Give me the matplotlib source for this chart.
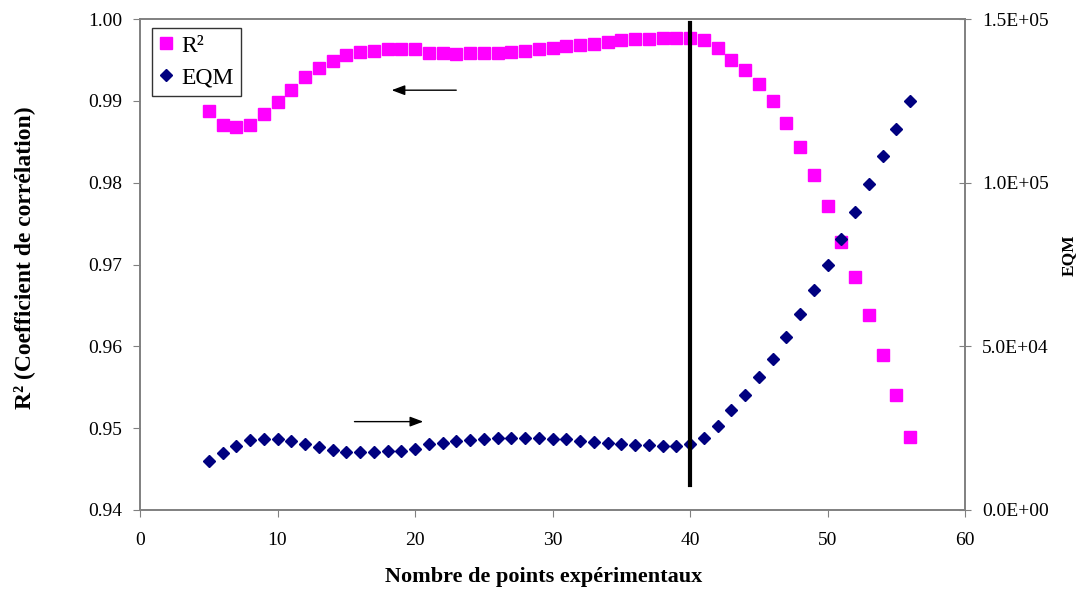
import matplotlib
matplotlib.use("Agg")
import matplotlib.pyplot as plt

plt.rcParams['font.family'] = ['Liberation Serif', 'DejaVu Serif']

n_points = list(range(5, 57))
r2 = [0.9888, 0.9871, 0.9868, 0.9871, 0.9884, 0.9899, 0.9913, 0.9929, 0.9940, 0.9949,
      0.9956, 0.9960, 0.9961, 0.9963, 0.9963, 0.9963, 0.9958, 0.9958, 0.9957, 0.9958,
      0.9958, 0.9958, 0.9960, 0.9961, 0.9963, 0.9964, 0.9967, 0.9968, 0.9970, 0.9972,
      0.9974, 0.9975, 0.9976, 0.9977, 0.9977, 0.9977, 0.9974, 0.9965, 0.9950, 0.9938,
      0.9920, 0.9900, 0.9873, 0.9843, 0.9809, 0.9771, 0.9728, 0.9685, 0.9638, 0.9589,
      0.9541, 0.9489]
eqm = [15000, 17500, 19600, 21300, 21700, 21600, 21100, 20100, 19300, 18300,
       17600, 17600, 17700, 18100, 18100, 18500, 20100, 20400, 21100, 21400,
       21600, 22000, 22000, 22000, 22000, 21800, 21600, 21200, 20900, 20500,
       20200, 19900, 19900, 19600, 19600, 20200, 21900, 25600, 30700, 35200,
       40600, 46000, 52800, 60000, 67200, 75000, 82700, 90900, 99600, 108000,
       116300, 125100]

x_ticks = [0, 10, 20, 30, 40, 50, 60]
r2_ticks = [0.94, 0.95, 0.96, 0.97, 0.98, 0.99, 1.00]
eqm_ticks = [0, 50000, 100000, 150000]
eqm_tick_labels = ['0.0E+00', '5.0E+04', '1.0E+05', '1.5E+05']
optimum_x = 40

W, H = 1084, 591
fig = plt.figure(figsize=(W / 100, H / 100), dpi=100)
ax1 = fig.add_axes([140 / W, 1 - 510 / H, (965 - 140) / W, (510 - 19) / H])
ax2 = ax1.twinx()

spine_col = '#808080'
ax1.set_xlim(0, 60)
ax1.set_ylim(0.94, 1.00)
ax2.set_ylim(0, 150000)

l1, = ax1.plot(n_points, r2, linestyle='none', marker='s', markersize=8,
               color='#FF00FF', markeredgecolor='#FF00FF', label='R²')
l2, = ax2.plot(n_points, eqm, linestyle='none', marker='D', markersize=6.5,
               color='#000080', markeredgecolor='#000080', label='EQM')

ax2.plot([optimum_x, optimum_x], [0.9995, 0.9431], color='black', linewidth=3,
         transform=ax1.transData, zorder=5)

ax1.annotate('', xy=(18.3, 0.9913), xytext=(23.0, 0.9913),
             arrowprops=dict(arrowstyle='-|>,head_length=0.8,head_width=0.3',
                             color='black', lw=1, shrinkA=0, shrinkB=0))
ax1.annotate('', xy=(20.6, 0.9508), xytext=(15.6, 0.9508),
             arrowprops=dict(arrowstyle='-|>,head_length=0.8,head_width=0.3',
                             color='black', lw=1, shrinkA=0, shrinkB=0))

ax1.set_xticks(x_ticks)
ax1.set_xticklabels([str(v) for v in x_ticks])
ax1.set_yticks(r2_ticks)
ax1.set_yticklabels([f'{v:.2f}' for v in r2_ticks])
ax2.set_yticks(eqm_ticks)
ax2.set_yticklabels(eqm_tick_labels)

for ax in (ax1, ax2):
    for s in ax.spines.values():
        s.set_color(spine_col)
        s.set_linewidth(1.2)
ax1.tick_params(axis='x', direction='out', length=5, color=spine_col,
                labelsize=14, pad=11)
ax1.tick_params(axis='y', direction='out', length=5, color=spine_col,
                labelsize=14, pad=8)
ax2.tick_params(axis='y', direction='inout', length=9, color=spine_col,
                labelsize=14, pad=8)

fig.text(544 / W, 1 - 582 / H, 'Nombre de points expérimentaux', fontsize=16,
         fontweight='bold', ha='center', va='baseline')
fig.text(24 / W, 1 - 258 / H, 'R² (Coefficient de corrélation)', fontsize=17,
         fontweight='bold', ha='center', va='center', rotation=90)
fig.text(1069 / W, 1 - 255 / H, 'EQM', fontsize=12.5,
         fontweight='bold', ha='center', va='center', rotation=90)

leg = ax2.legend(handles=[l1, l2], loc='upper left',
                 bbox_to_anchor=((152 - 140) / 825, (510 - 28) / 491),
                 fontsize=17, frameon=True, fancybox=False, edgecolor='black',
                 handlelength=0.6, handletextpad=0.35, borderpad=0.3, labelspacing=0.45,
                 borderaxespad=0)
leg.get_frame().set_linewidth(1)

fig.savefig('out.png', dpi=100)
